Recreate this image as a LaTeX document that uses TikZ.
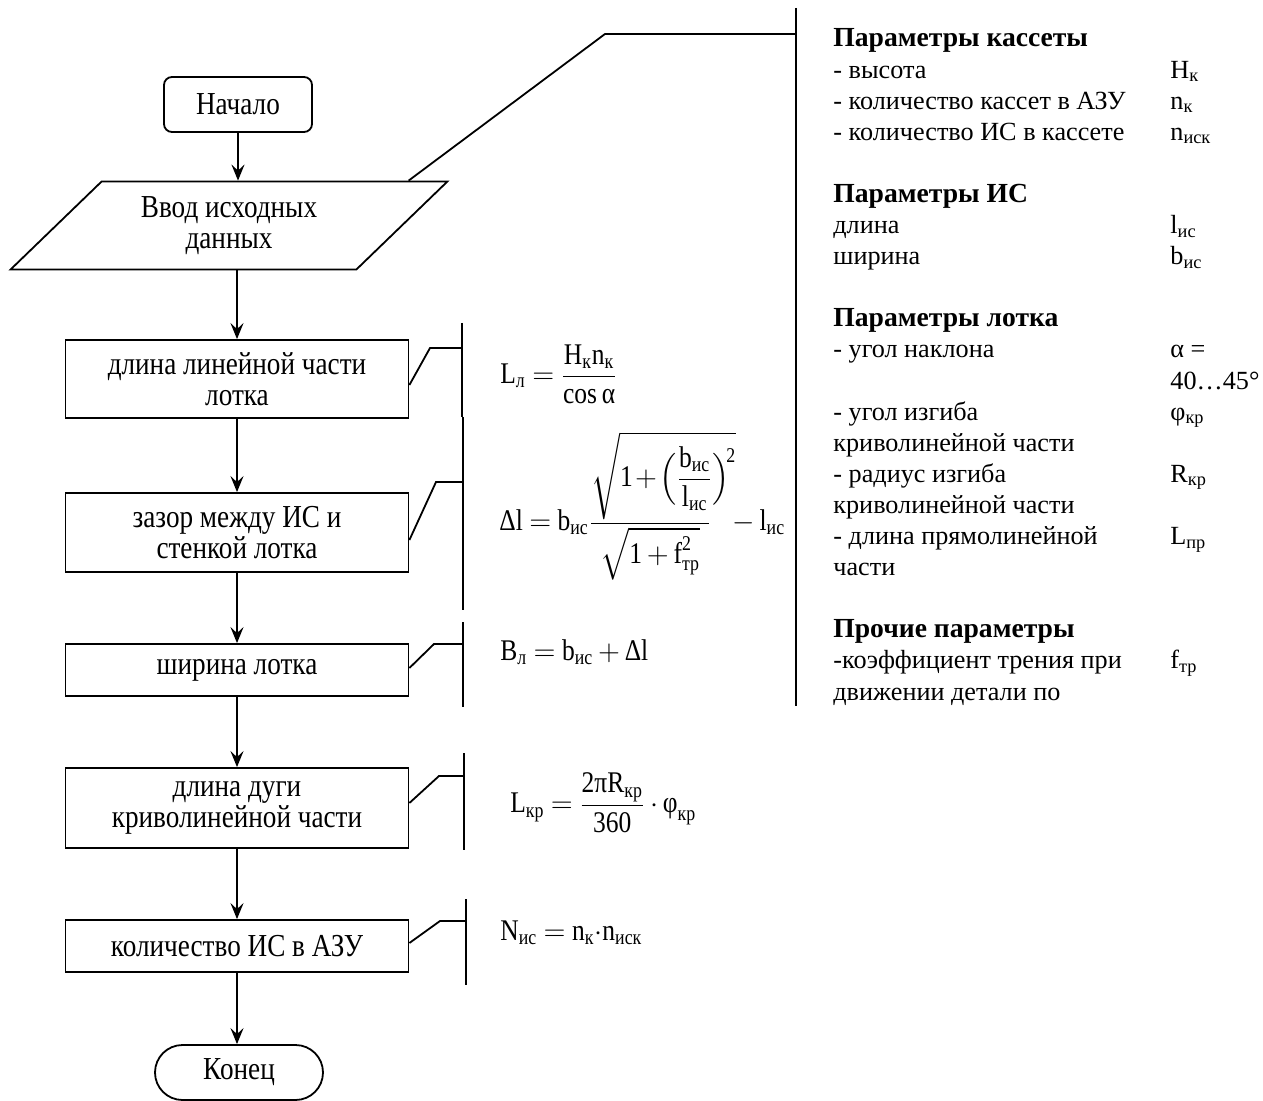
\documentclass[tikz,border=0pt]{standalone}
\usepackage{fontspec}
\usepackage{amsmath}
\setmainfont{Liberation Serif}
\newfontfamily\narrowserif[FakeStretch=0.85]{Liberation Serif}
\usetikzlibrary{arrows.meta,positioning,shapes.geometric,calc}
\newcommand{\flowfont}{\narrowserif\fontsize{16}{15.5}\selectfont}
\newcommand{\notefont}{\fontsize{13.1}{15.55}\selectfont}
\newcommand{\formfont}{\narrowserif\fontsize{15}{17}\selectfont
  \medmuskip=3mu plus 1mu\thickmuskip=4mu plus 2mu}
\newcommand{\tv}[2]{\text{#1}_{\text{#2}}}
\newcommand{\grouphead}[1]{{\fontsize{13.8}{15.55}\selectfont\bfseries #1}}
\tikzset{
  flowbox/.style={draw, line width=0.9pt, minimum width=171.5pt, align=center, font=\flowfont, inner sep=1pt},
  termbox/.style={draw, line width=0.9pt, rounded corners=4pt, minimum height=27.5pt, font=\flowfont},
  inbox/.style={draw, line width=0.9pt, trapezium, trapezium left angle=44, trapezium right angle=136,
                minimum height=40.5pt, minimum width=219pt, align=center, font=\flowfont, inner sep=1pt},
  flowarrow/.style={line width=0.9pt, -{Stealth[length=8pt,width=6.5pt,inset=3pt]}},
  noteline/.style={line width=0.9pt},
  formula/.style={anchor=west, font=\formfont, inner sep=0pt}
}

\begin{document}
\begin{tikzpicture}[x=0.5pt,y=-0.5pt]
  \useasboundingbox (0,0) rectangle (1263,1101);

  \node[termbox, minimum width=74pt] (start) at (238,104.5) {Начало};
  \node[inbox] (input) at (229,225.5) {Ввод исходных\\данных};
  \node[flowbox, minimum height=39pt] (trlen) at (237,379) {длина линейной части\\лотка};
  \node[flowbox, minimum height=39.5pt] (gap) at (237,532.5) {зазор между ИС и\\стенкой лотка};
  \node[flowbox, minimum height=26pt] (trwidth) at (237,670) {ширина лотка};
  \node[flowbox, minimum height=40pt] (arclen) at (237,808) {длина дуги\\криволинейной части};
  \node[flowbox, minimum height=26pt] (count) at (237,946) {количество ИС в АЗУ};
  \node[termbox, rounded corners=13.75pt, minimum width=84pt] (stop) at (239,1072.5) {Конец};

  \draw[flowarrow] (start.south) -- (start.south |- input.north);
  \draw[flowarrow] (trlen.north |- input.south) -- (trlen.north);
  \draw[flowarrow] (trlen.south) -- (gap.north);
  \draw[flowarrow] (gap.south) -- (trwidth.north);
  \draw[flowarrow] (trwidth.south) -- (arclen.north);
  \draw[flowarrow] (arclen.south) -- (count.north);
  \draw[flowarrow] (count.south) -- (count.south |- stop.north);

  % brackets
  \draw[noteline] (796,8) -- (796,706);
  \draw[noteline] (462,323) -- (462,417);
  \draw[noteline] (463,417) -- (463,610);
  \draw[noteline] (463,622) -- (463,707);
  \draw[noteline] (464,753) -- (464,850);
  \draw[noteline] (466,899) -- (466,985);

  \coordinate (tag0) at (796,34);
  \coordinate (tag1) at (462,348);
  \coordinate (tag2) at (463,482);
  \coordinate (tag3) at (463,644);
  \coordinate (tag4) at (464,776);
  \coordinate (tag5) at (466,921);

  \draw[noteline] ([xshift=-20.5pt]input.top right corner) -- ([xshift=-95.5pt]tag0) -- (tag0);
  \draw[noteline] ([yshift=-3pt]trlen.east) -- ([xshift=-16pt]tag1) -- (tag1);
  \draw[noteline] ([yshift=-3.75pt]gap.east) -- ([xshift=-13.5pt]tag2) -- (tag2);
  \draw[noteline] ([yshift=1pt]trwidth.east) -- ([xshift=-14.5pt]tag3) -- (tag3);
  \draw[noteline] ([yshift=2.5pt]arclen.east) -- ([xshift=-12.5pt]tag4) -- (tag4);
  \draw[noteline] ([yshift=1.5pt]count.east) -- ([xshift=-13pt]tag5) -- (tag5);

  \node[formula] (flen) at (500,374)
    {$\tv{L}{л} = \dfrac{\tv{H}{к}\tv{n}{к}}{\text{cos}\,\text{α}}$};
  \node[formula] (fgap) at (499,506)
    {$\text{Δl} = \tv{b}{ис}\dfrac{\rlap{$\displaystyle\medmuskip=1.5mu\sqrt{\text{1}+\Bigl(\dfrac{\tv{b}{ис}}{\tv{l}{ис}}\Bigr)^{\!\text{2}}}$}\hspace{59pt}}
      {\sqrt{\text{1}+\text{f}^{\text{2}}_{\text{тр}}}}\mkern10mu - \tv{l}{ис}$};
  \node[formula] (fwidth) at (500,652) {$\tv{B}{л} = \tv{b}{ис} + \text{Δl}$};
  \node[formula] (farc) at (510,803)
    {$\tv{L}{кр} = \dfrac{\text{2π}\tv{R}{кр}}{\text{360}}\cdot\tv{φ}{кр}$};
  \node[formula] (fcount) at (500,933) {$\tv{N}{ис} = \tv{n}{к}{\cdot}\tv{n}{иск}$};

  \begin{scope}
    \clip (800,0) rectangle (1263,707);
    \node[anchor=base west, inner sep=0pt, font=\notefont] (params) at (833,47)
      {\begin{tabular}[t]{@{}p{168.5pt}@{}l@{}}
        \grouphead{Параметры кассеты} & \\
        - высота & H\textsubscript{к} \\
        - количество кассет в АЗУ & n\textsubscript{к} \\
        - количество ИС в кассете & n\textsubscript{иск} \\
        & \\
        \grouphead{Параметры ИС} & \\
        длина & l\textsubscript{ис} \\
        ширина & b\textsubscript{ис} \\
        & \\
        \grouphead{Параметры лотка} & \\
        - угол наклона & α = \\
        & 40…45° \\
        - угол изгиба & φ\textsubscript{кр} \\
        криволинейной части & \\
        - радиус изгиба & R\textsubscript{кр} \\
        криволинейной части & \\
        - длина прямолинейной & L\textsubscript{пр} \\
        части & \\
        & \\
        \grouphead{Прочие параметры} & \\
        -коэффициент трения при & f\textsubscript{тр} \\
        движении детали по &
      \end{tabular}};
  \end{scope}
\end{tikzpicture}
\end{document}
